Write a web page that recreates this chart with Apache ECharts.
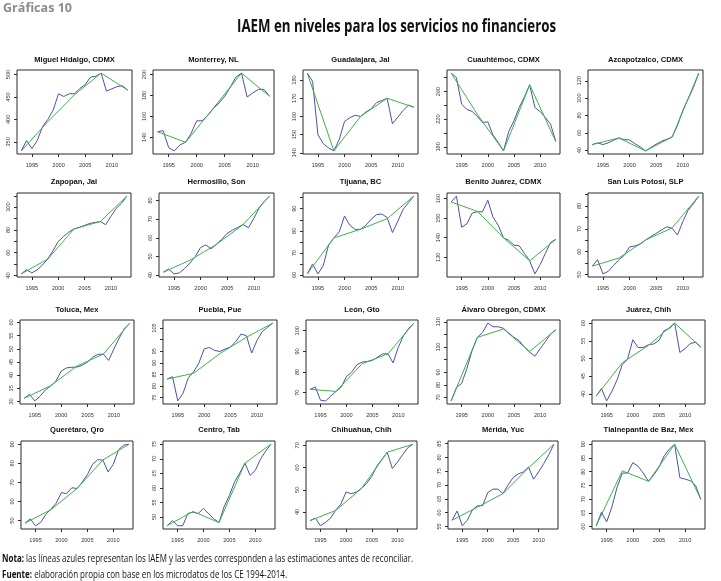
<!DOCTYPE html>
<html><head><meta charset="utf-8">
<script src="https://cdn.jsdelivr.net/npm/echarts@6/dist/echarts.min.js"></script>
<style>html,body{margin:0;padding:0;background:#fff}#c{width:721px;height:581px}</style>
</head><body><div id="c"></div>
<script>
// ---------- data ----------
const years = [1993,1994,1995,1996,1997,1998,1999,2000,2001,2002,2003,2004,2005,2006,2007,2008,2009,2010,2011,2012,2013];
const estYears = [1993,1998,2003,2008,2013];
const xTicks = [1995,2000,2005,2010];

const miguelHidalgoIAEM = [330,353,335,353,384,400,421,457,451,457,457,469,477,494,496,503,463,468,473,475,465];
const miguelHidalgoEst = [330,395,455,503,465];
const miguelHidalgoTicks = [350,400,450,500];
const miguelHidalgoLabels = [350,400,450,500];

const monterreyIAEM = [145.4,146.4,130.3,127.1,132.8,135.3,143.8,155.8,155.8,161.2,167.5,172.9,179.2,188,197.5,201.3,178.5,182.3,185.8,185.8,179.2];
const monterreyEst = [145.4,135.3,168,201.3,179.2];
const monterreyTicks = [140,160,180,200];
const monterreyLabels = [140,160,180,200];

const guadalajaraIAEM = [183.8,179.3,150,145.1,142.7,141.1,147.3,157.3,159.3,160.7,160,162.4,164.2,167.6,168.7,170,156,159.6,163.3,166.2,165.1];
const guadalajaraEst = [183.8,141.1,160,170,165.1];
const guadalajaraTicks = [140,150,160,170,180];
const guadalajaraLabels = [140,150,160,170,180];

const cuauhtemocIAEM = [286.5,280.2,241.7,234,231.1,224,215.2,216.1,196.9,186.3,174.2,202.2,217.6,236.9,252.3,269.6,236.9,231.1,222.4,212.8,187.7];
const cuauhtemocEst = [286.5,227,174.2,269.6,187.7];
const cuauhtemocTicks = [180,200,220,240,260,280];
const cuauhtemocLabels = [180,220,260];

const azcapotzalcoIAEM = [46.5,48.4,46.5,48.4,51.4,54.1,52.2,51.8,47.6,43.8,39.2,43,46.9,50.3,52.6,55.2,68.6,85.7,99,112.4,128.8];
const azcapotzalcoEst = [46.5,54.1,39.2,55.2,128.8];
const azcapotzalcoTicks = [40,60,80,100,120];
const azcapotzalcoLabels = [40,60,80,100,120];

const zapopanIAEM = [41.4,45.1,42.3,44.9,49.1,54.3,61.7,69.7,74.3,78,80.9,82.3,84,85.7,86.6,87.4,84.6,92,98.9,103.4,109.7];
const zapopanEst = [41.4,54.3,80.9,87.4,109.7];
const zapopanTicks = [40,50,60,70,80,90,100,110];
const zapopanLabels = [40,60,80,100];

const hermosilloIAEM = [41.6,43.3,40.7,41.2,43.5,46.5,49.9,54.8,56.2,54.1,56.6,59.2,62.4,64.1,65.6,67.1,65.4,70.3,75.9,79.6,82.3];
const hermosilloEst = [41.6,48,56.5,67.1,82.3];
const hermosilloTicks = [40,50,60,70,80];
const hermosilloLabels = [40,50,60,70,80];

const tijuanaIAEM = [60.5,65,60.5,64.2,73.5,76.8,79.5,86.7,82.5,80.6,80.7,82.5,85.2,87.3,87.6,86,79.2,84.3,89.7,92.7,95.7];
const tijuanaEst = [60.5,76.8,80.7,85.5,95.7];
const tijuanaTicks = [60,65,70,75,80,85,90,95];
const tijuanaLabels = [60,70,80,90];

const benitoJuarezIAEM = [158.3,161.3,145.4,147.1,152.6,153.3,153.3,159.2,150.5,146.3,139.9,138.7,136.2,135.9,132,128.2,121.5,126.2,132,137.6,139.2];
const benitoJuarezEst = [158.3,153.5,140,128.2,139.2];
const benitoJuarezTicks = [130,140,150,160];
const benitoJuarezLabels = [130,140,150,160];

const sanLuisPotosiIAEM = [53.7,56.5,50.3,51.4,54,56.5,58.4,62.1,62.5,63.3,65.1,66.6,68,69.5,70.9,70.2,67.3,73.1,78.1,81,84.3];
const sanLuisPotosiEst = [53.7,57.2,65.1,70.4,84.3];
const sanLuisPotosiTicks = [50,55,60,65,70,75,80,85];
const sanLuisPotosiLabels = [50,60,70,80];

const tolucaIAEM = [31.25,32.75,30.25,32,34.4,35.9,37.75,41.5,42.75,43,43.1,43.75,45,46.9,47.9,48,45.6,50,54.1,57.75,59.75];
const tolucaEst = [31.25,36,43.5,48,59.75];
const tolucaTicks = [30,35,40,45,50,55,60];
const tolucaLabels = [30,35,40,45,50,55,60];

const pueblaIAEM = [83,84,73.6,76.9,83.6,86.1,89.9,96,96.6,95.3,94.9,96,96.8,99.2,102.4,101.7,94.2,99.6,103.4,105.3,107.1];
const pueblaEst = [83,85.5,94,101,107.1];
const pueblaTicks = [75,80,85,90,95,100,105];
const pueblaLabels = [75,80,85,90,95,105];

const leonIAEM = [71.6,72.7,66.3,66,68.4,70.6,72.7,77.8,79.9,83.5,84.8,85.1,85.6,87.2,88.8,88.8,84.4,92,97.6,101.1,103.7];
const leonEst = [71.6,70.6,84,88.8,103.7];
const leonTicks = [70,80,90,100];
const leonLabels = [70,80,90,100];

const alvaroObregonIAEM = [67.3,77.8,81.2,92.9,107.3,117.7,121.6,129,126.1,126.1,124.8,121.1,117.7,115.1,109.9,106,102.8,108.6,114.3,120.3,123.7];
const alvaroObregonEst = [67.3,117.7,124.3,106.5,123.7];
const alvaroObregonTicks = [70,80,90,100,110,120,130];
const alvaroObregonLabels = [70,80,90,110,130];

const juarezIAEM = [39.35,41.5,38,40.7,44,48.3,49.8,55.3,53.1,53.1,53.9,54.1,55.1,57.9,58.5,60,51.7,52.8,54.2,54.6,53.2];
const juarezEst = [39.35,48.8,53.7,60,53.2];
const juarezTicks = [40,45,50,55,60];
const juarezLabels = [40,45,50,55,60];

const queretaroIAEM = [48.7,50.9,47.3,49.1,53.3,56,59.2,64.7,64.1,67.2,66.8,70.1,74.1,79.5,81.9,81.7,75.5,79.5,87.1,89.5,90];
const queretaroEst = [48.7,55.8,66.8,81.8,90];
const queretaroTicks = [50,60,70,80,90];
const queretaroLabels = [50,60,70,80,90];

const centroIAEM = [47,48.8,47,47,51.2,51.7,51.2,53,51.1,49.4,48.1,53.6,57.4,62.1,65.1,68.5,64.3,66,69.9,72.6,75];
const centroEst = [47,51.9,48.1,68.5,75];
const centroTicks = [50,55,60,65,70,75];
const centroLabels = [50,55,60,65,70,75];

const chihuahuaIAEM = [36.1,37.3,33.8,35.3,37.3,40.9,43.6,49,48.2,49,50.6,52.9,56,60.7,63.8,66.9,59.6,62.5,65.8,68.9,70.5];
const chihuahuaEst = [36.1,40.7,50.6,66.9,70.5];
const chihuahuaTicks = [40,50,60,70];
const chihuahuaLabels = [40,50,60,70];

const meridaIAEM = [57.25,60.6,55.25,57.25,61,62.5,62.5,67.25,68.5,68.5,66.9,70,72.75,74,74.75,76.5,72.1,74.75,77.75,81,84.75];
const meridaEst = [57.25,62,66.9,76.2,84.75];
const meridaTicks = [55,60,65,70,75,80,85];
const meridaLabels = [55,60,65,70,75,80,85];

const tlalnepantlaIAEM = [60.3,65.2,61.7,67.1,74.4,79.5,79.5,83.3,82,79.5,76.5,78.8,81.6,85.8,88.3,90,77.8,77.3,76.7,75,69.9];
const tlalnepantlaEst = [60.3,80.3,76.5,90,69.9];
const tlalnepantlaTicks = [60,65,70,75,80,85,90];
const tlalnepantlaLabels = [60,65,70,75,80,85,90];

const panelTitles = ['Miguel Hidalgo, CDMX','Monterrey, NL','Guadalajara, Jal','Cuauhtémoc, CDMX','Azcapotzalco, CDMX',
  'Zapopan, Jal','Hermosillo, Son','Tijuana, BC','Benito Juárez, CDMX','San Luis Potosí, SLP',
  'Toluca, Mex','Puebla, Pue','León, Gto','Álvaro Obregón, CDMX','Juárez, Chih',
  'Querétaro, Qro','Centro, Tab','Chihuahua, Chih','Mérida, Yuc','Tlalnepantla de Baz, Mex'];

const iaemSeries = [miguelHidalgoIAEM,monterreyIAEM,guadalajaraIAEM,cuauhtemocIAEM,azcapotzalcoIAEM,
  zapopanIAEM,hermosilloIAEM,tijuanaIAEM,benitoJuarezIAEM,sanLuisPotosiIAEM,
  tolucaIAEM,pueblaIAEM,leonIAEM,alvaroObregonIAEM,juarezIAEM,
  queretaroIAEM,centroIAEM,chihuahuaIAEM,meridaIAEM,tlalnepantlaIAEM];
const estSeries = [miguelHidalgoEst,monterreyEst,guadalajaraEst,cuauhtemocEst,azcapotzalcoEst,
  zapopanEst,hermosilloEst,tijuanaEst,benitoJuarezEst,sanLuisPotosiEst,
  tolucaEst,pueblaEst,leonEst,alvaroObregonEst,juarezEst,
  queretaroEst,centroEst,chihuahuaEst,meridaEst,tlalnepantlaEst];
const tickSets = [miguelHidalgoTicks,monterreyTicks,guadalajaraTicks,cuauhtemocTicks,azcapotzalcoTicks,
  zapopanTicks,hermosilloTicks,tijuanaTicks,benitoJuarezTicks,sanLuisPotosiTicks,
  tolucaTicks,pueblaTicks,leonTicks,alvaroObregonTicks,juarezTicks,
  queretaroTicks,centroTicks,chihuahuaTicks,meridaTicks,tlalnepantlaTicks];
const labelSets = [miguelHidalgoLabels,monterreyLabels,guadalajaraLabels,cuauhtemocLabels,azcapotzalcoLabels,
  zapopanLabels,hermosilloLabels,tijuanaLabels,benitoJuarezLabels,sanLuisPotosiLabels,
  tolucaLabels,pueblaLabels,leonLabels,alvaroObregonLabels,juarezLabels,
  queretaroLabels,centroLabels,chihuahuaLabels,meridaLabels,tlalnepantlaLabels];

// ---------- layout ----------
const rowTop = [70,193,320,441];
const rowBottom = [154,277,404,529];
const rowTitleY = [60,182,310,430];
const colSpans = [
  [[17,132],[153,274],[303,418],[447,560],[588,703]],
  [[17,131],[159,274],[303,418],[447,560],[588,703]],
  [[20,134],[163,277],[306,418],[447,560],[592,705]],
  [[21,133],[163,275],[306,417],[448,558],[592,705]]
];
const BLUE = '#4d50a9', GREEN = '#3fb04a', FRAME = '#2b2b2b', TXT = '#333';
const plain = v => String(Math.round(v * 100) / 100);

const grids = [], xAxes = [], yAxes = [], series = [], graphics = [];
for (let i = 0; i < 20; i++) {
  const r = Math.floor(i / 5), c = i % 5;
  const [l, rt] = colSpans[r][c];
  grids.push({left: l, top: rowTop[r], width: rt - l, height: rowBottom[r] - rowTop[r],
    show: true, borderColor: FRAME, borderWidth: 1, backgroundColor: 'transparent', containLabel: false});
  const all = iaemSeries[i].concat(estSeries[i]);
  const lo = Math.min(...all), hi = Math.max(...all), pad = (hi - lo) * 0.04;
  xAxes.push({type: 'value', gridIndex: i, min: 1993 - 0.8, max: 2013 + 0.8,
    axisLine: {show: false}, splitLine: {show: false},
    axisTick: {show: true, length: 3, customValues: xTicks, lineStyle: {color: FRAME, width: 1}},
    axisLabel: {show: true, customValues: xTicks, formatter: plain, margin: 8, fontSize: 5.6, color: TXT, fontFamily: 'Liberation Sans'}});
  yAxes.push({type: 'value', gridIndex: i, min: lo - pad, max: hi + pad,
    axisLine: {show: false}, splitLine: {show: false},
    axisTick: {show: true, length: 3, customValues: tickSets[i], lineStyle: {color: FRAME, width: 1}},
    axisLabel: {show: true, customValues: labelSets[i], formatter: plain, rotate: 90, margin: 6, fontSize: 5.6, color: TXT, fontFamily: 'Liberation Sans'}});
  series.push({type: 'line', xAxisIndex: i, yAxisIndex: i, showSymbol: false, silent: true, animation: false,
    lineStyle: {color: BLUE, width: 1}, data: years.map((y, k) => [y, iaemSeries[i][k]])});
  series.push({type: 'line', xAxisIndex: i, yAxisIndex: i, showSymbol: false, silent: true, animation: false,
    lineStyle: {color: GREEN, width: 1}, data: estYears.map((y, k) => [y, estSeries[i][k]])});
  graphics.push({type: 'text', x: (l + rt) / 2, y: rowTitleY[r],
    style: {text: panelTitles[i], font: 'bold 7.6px "Liberation Sans"', fill: '#111', textAlign: 'center', textVerticalAlign: 'middle'}});
}

// condensed texts via measured horizontal scaling
const ctx = document.createElement('canvas').getContext('2d');
function tw(t, f) { ctx.font = f; return ctx.measureText(t).width; }
function fitText(text, font, x, y, target, fill) {
  const s = target / tw(text, font);
  graphics.push({type: 'text', x: x, y: y, scaleX: s, scaleY: 1,
    style: {text: text, font: font, fill: fill, textAlign: 'left', textVerticalAlign: 'middle'}});
}
fitText('Gráficas 10', 'bold 13px "Open Sans"', 3, 8, 69, '#8c8c8c');
fitText('IAEM en niveles para los servicios no financieros', 'bold 18px "Open Sans"', 237, 27, 319, '#111');

function fitRich(boldPart, rest, x, y, target) {
  const fb = 'bold 10.5px "Open Sans"', fn = '10.5px "Open Sans"';
  const s = target / (tw(boldPart, fb) + tw(rest, fn));
  graphics.push({type: 'text', x: x, y: y, scaleX: s, scaleY: 1,
    style: {text: '{b|' + boldPart + '}{n|' + rest + '}', textAlign: 'left', textVerticalAlign: 'middle',
      rich: {b: {font: fb, fill: '#111'}, n: {font: fn, fill: '#111'}}}});
}
fitRich('Nota:', ' las líneas azules representan los IAEM y las verdes corresponden a las estimaciones antes de reconciliar.', 2, 559, 411);
fitRich('Fuente:', ' elaboración propia con base en los microdatos de los CE 1994-2014.', 2, 575, 285);

const chart = echarts.init(document.getElementById('c'), null, {renderer: 'canvas'});
chart.setOption({animation: false, grid: grids, xAxis: xAxes, yAxis: yAxes, series: series, graphic: graphics});
</script></body></html>
